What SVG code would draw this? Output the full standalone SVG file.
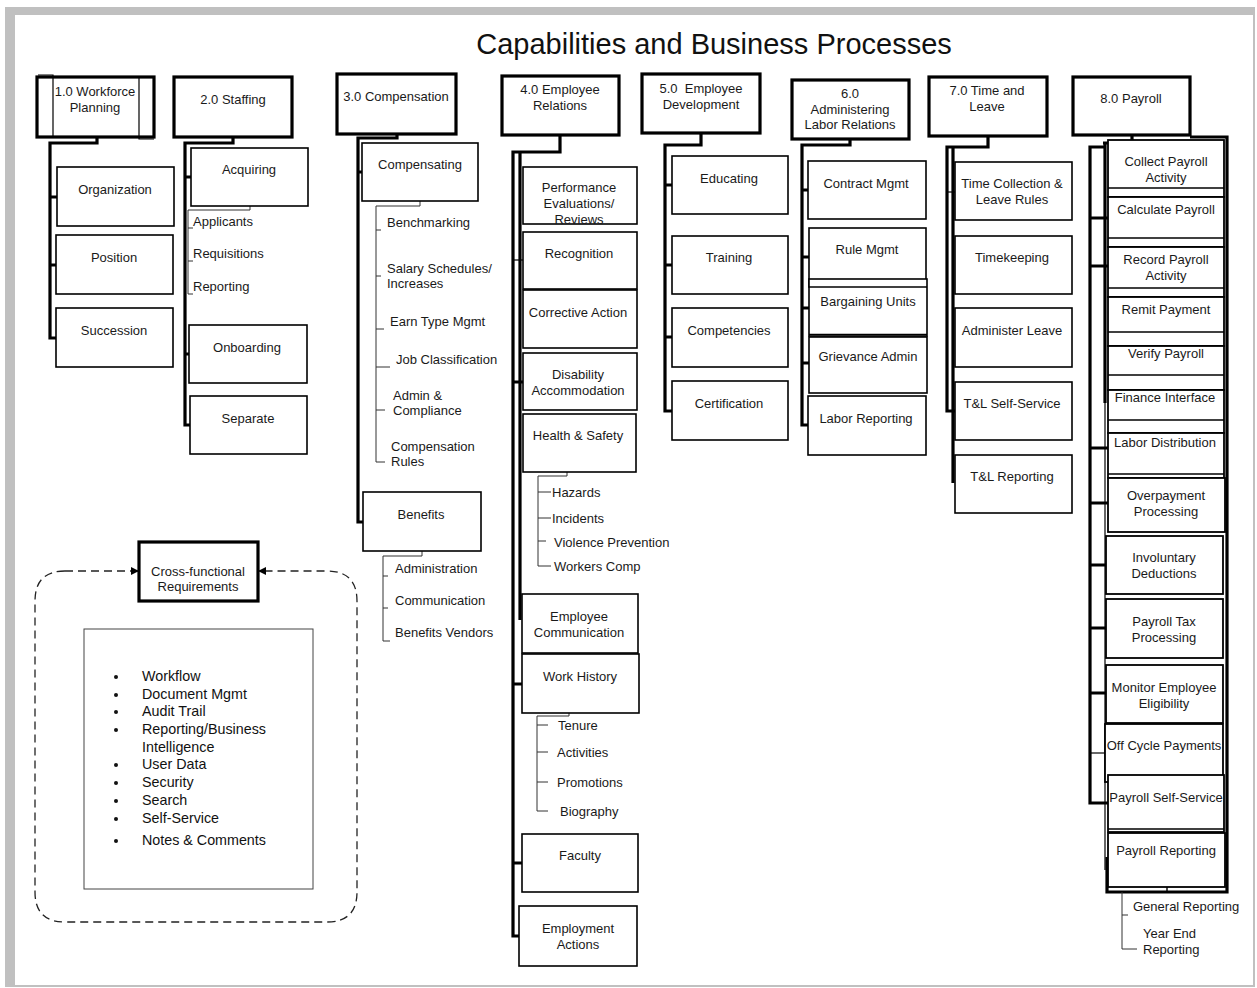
<svg xmlns="http://www.w3.org/2000/svg" width="1257" height="988" viewBox="0 0 1257 988">
<defs>
<style>
.hdr{fill:#fff;stroke:#000;stroke-width:3.2}
.box{fill:#fff;stroke:#000;stroke-width:1.6}
.pb{fill:#fff;stroke:#000;stroke-width:1.8}
.ln{fill:none;stroke:#000;stroke-width:1.4}
.t{font-family:"Liberation Sans",Arial,sans-serif;font-size:13px;fill:#1a1a1a;text-anchor:middle}
.tl{font-family:"Liberation Sans",Arial,sans-serif;font-size:13px;fill:#1a1a1a;text-anchor:start}
.li{font-family:"Liberation Sans",Arial,sans-serif;font-size:14.3px;fill:#111;text-anchor:start}
.bus{fill:none;stroke:#000;stroke-width:3.2;stroke-linejoin:miter}
.tk{fill:none;stroke:#000;stroke-width:3}
.thin{fill:none;stroke:#000;stroke-width:1.2}
.br{fill:none;stroke:#333;stroke-width:1}
.dash{fill:none;stroke:#222;stroke-width:1.3;stroke-dasharray:8 5}
</style>
<marker id="arr" viewBox="0 0 10 10" refX="10" refY="5" markerWidth="8" markerHeight="8" markerUnits="userSpaceOnUse" orient="auto">
<path d="M0,0 L10,5 L0,10 z" fill="#000"/>
</marker>
</defs>
<rect x="5" y="7" width="1250" height="980" fill="#c0c0c0"/>
<rect x="15" y="15" width="1238" height="970" fill="#fff"/>
<text x="714" y="54" style="font-family:'Liberation Sans',Arial,sans-serif;font-size:29px;fill:#111;text-anchor:middle">Capabilities and Business Processes</text>

<g id="connectors">
<!-- col1 -->
<path class="bus" d="M97,137 V143 H50 V338 H56"/>
<path class="tk" d="M50,197 H57 M50,265 H56"/>
<!-- col2 -->
<path class="bus" d="M233,137 V143 H185 V425 H190"/>
<path class="tk" d="M185,177 H191 M185,354 H189"/>
<path class="br" d="M250,206 V210 H188 V294 H193 M188,228 H193 M188,261 H193"/>
<!-- col3 -->
<path class="bus" d="M397,134 V138 H358 V522 H363"/>
<path class="tk" d="M358,172 H362"/>
<path class="br" d="M420,201 V206 H376 V462 H385 M376,230 H381 M376,276 H381 M376,329 H384 M376,367 H390 M376,410 H385"/>
<path class="br" d="M422,551 V556 H383 V641 H390 M383,576 H388 M383,608 H388"/>
<!-- col4 -->
<path class="bus" d="M560,135 V152 H513 V936 H519"/>
<path class="bus" d="M520,152 V620"/>
<path class="tk" d="M513,382 H523 M513,684 H522 M513,863 H522"/>
<path class="thin" d="M513,260 H523"/>
<path class="br" d="M567,472 V476 H538 V566 H551 M538,492 H551 M538,518 H551 M538,541 H546"/>
<path class="br" d="M569,713 V716 H537 V811 H548 M537,725 H548 M537,752 H548 M537,782 H548"/>
<!-- col5 -->
<path class="bus" d="M701,133 V145 H665 V411 H672"/>
<path class="tk" d="M665,185 H672 M665,265 H672 M665,337 H672"/>
<!-- col6 -->
<path class="bus" d="M850,139 V145 H802 V425 H808"/>
<path class="tk" d="M802,190 H808 M802,257 H809 M802,308 H809 M802,363 H809"/>
<!-- col7 -->
<path class="bus" d="M988,136 V147 H947 V411 H955"/>
<path class="bus" d="M953,147 V483"/>
<path class="thin" d="M947,192 H955"/>
<!-- col8 -->
<path class="bus" d="M1132,135 V143 H1103"/>
<path class="bus" d="M1105,143 V403"/>
<path class="thin" d="M1105,403 V870"/>
<path class="bus" d="M1105,147 H1090 V803 H1108"/>
<path class="tk" d="M1090,218 H1108 M1090,266 H1108 M1090,448 H1108 M1090,503 H1108 M1090,565 H1106 M1090,628 H1106 M1090,693 H1106"/>
<path class="thin" d="M1090,753 H1105"/>
<path class="bus" d="M1190,137 H1227 V892 H1107 V857"/>
<path class="br" d="M1122,892 V949 H1137 M1122,915 H1128"/>
<!-- cross functional -->
<path class="dash" d="M65,571 H139" marker-end="url(#arr)"/>
<path class="dash" d="M65,571 Q35,571 35,601 V892 Q35,922 65,922 H327 Q357,922 357,892 V601 Q357,571 327,571 H258" marker-end="url(#arr)"/>
</g>

<!-- Column 1 -->
<g id="n1-0">
<rect class="hdr" x="37" y="77" width="117" height="60"/>
<path class="thin" d="M38,75 H53 V137 M139,78 V139 H154"/>
<text class="t" x="95" y="95.5">1.0 Workforce</text>
<text class="t" x="95" y="111.5">Planning</text>
</g>
<g id="n1-1"><rect class="box" x="57" y="167" width="117" height="59"/><text class="t" x="115" y="193.5">Organization</text></g>
<g id="n1-2"><rect class="box" x="56" y="235" width="117" height="59"/><text class="t" x="114" y="261.5">Position</text></g>
<g id="n1-3"><rect class="box" x="56" y="308" width="117" height="59"/><text class="t" x="114" y="334.5">Succession</text></g>

<!-- Column 2 -->
<g id="n2-0"><rect class="hdr" x="174" y="77" width="118" height="60"/><text class="t" x="233" y="103.5">2.0 Staffing</text></g>
<g id="n2-1"><rect class="box" x="191" y="148" width="117" height="58"/><text class="t" x="249" y="173.5">Acquiring</text></g>
<g id="n2-1-items">
<text class="tl" x="193" y="225.5">Applicants</text>
<text class="tl" x="193" y="257.5">Requisitions</text>
<text class="tl" x="193" y="290.5">Reporting</text>
</g>
<g id="n2-2"><rect class="box" x="189" y="325" width="118" height="58"/><text class="t" x="247" y="351.5">Onboarding</text></g>
<g id="n2-3"><rect class="box" x="190" y="396" width="117" height="58"/><text class="t" x="248" y="422.5">Separate</text></g>

<!-- Column 3 -->
<g id="n3-0"><rect class="hdr" x="337" y="74" width="119" height="60"/><text class="t" x="396" y="100.5">3.0 Compensation</text></g>
<g id="n3-1"><rect class="box" x="362" y="143" width="116" height="58"/><text class="t" x="420" y="168.5">Compensating</text></g>
<g id="n3-1-items">
<text class="tl" x="387" y="226.5">Benchmarking</text>
<text class="tl" x="387" y="272.5">Salary Schedules/</text>
<text class="tl" x="387" y="287.5">Increases</text>
<text class="tl" x="390" y="325.5">Earn Type Mgmt</text>
<text class="tl" x="396" y="363.5">Job Classification</text>
<text class="tl" x="393" y="399.5">Admin &amp;</text>
<text class="tl" x="393" y="414.5">Compliance</text>
<text class="tl" x="391" y="450.5">Compensation</text>
<text class="tl" x="391" y="465.5">Rules</text>
</g>
<g id="n3-2"><rect class="box" x="363" y="492" width="118" height="59"/><text class="t" x="421" y="518.5">Benefits</text></g>
<g id="n3-2-items">
<text class="tl" x="395" y="572.5">Administration</text>
<text class="tl" x="395" y="604.5">Communication</text>
<text class="tl" x="395" y="636.5">Benefits Vendors</text>
</g>

<!-- Column 4 -->
<g id="n4-0"><rect class="hdr" x="502" y="76" width="117" height="59"/><text class="t" x="560" y="93.5">4.0 Employee</text><text class="t" x="560" y="109.5">Relations</text></g>
<g id="n4-1"><rect class="box" x="523" y="167" width="114" height="57"/><text class="t" x="579" y="191.5">Performance</text><text class="t" x="579" y="207.5">Evaluations/</text><text class="t" x="579" y="223.5">Reviews</text></g>
<g id="n4-2"><rect class="box" x="523" y="232" width="114" height="57"/><text class="t" x="579" y="257.5">Recognition</text></g>
<g id="n4-3"><rect class="box" x="523" y="290" width="114" height="58"/><text class="t" x="578" y="316.5">Corrective Action</text></g>
<g id="n4-4"><rect class="box" x="523" y="353" width="114" height="57"/><text class="t" x="578" y="378.5">Disability</text><text class="t" x="578" y="394.5">Accommodation</text></g>
<g id="n4-5"><rect class="box" x="523" y="414" width="113" height="58"/><text class="t" x="578" y="439.5">Health &amp; Safety</text></g>
<g id="n4-5-items">
<text class="tl" x="552" y="496.5">Hazards</text>
<text class="tl" x="552" y="522.5">Incidents</text>
<text class="tl" x="554" y="546.5">Violence Prevention</text>
<text class="tl" x="554" y="571">Workers Comp</text>
</g>
<g id="n4-6"><rect class="box" x="522" y="594" width="116" height="59"/><text class="t" x="579" y="620.5">Employee</text><text class="t" x="579" y="636.5">Communication</text></g>
<g id="n4-7"><rect class="box" x="522" y="654" width="117" height="59"/><text class="t" x="580" y="680.5">Work History</text></g>
<g id="n4-7-items">
<text class="tl" x="558" y="729.5">Tenure</text>
<text class="tl" x="557" y="756.5">Activities</text>
<text class="tl" x="557" y="786.5">Promotions</text>
<text class="tl" x="560" y="815.5">Biography</text>
</g>
<g id="n4-8"><rect class="box" x="522" y="834" width="116" height="58"/><text class="t" x="580" y="859.5">Faculty</text></g>
<g id="n4-9"><rect class="box" x="519" y="906" width="118" height="60"/><text class="t" x="578" y="932.5">Employment</text><text class="t" x="578" y="948.5">Actions</text></g>

<!-- Column 5 -->
<g id="n5-0"><rect class="hdr" x="642" y="74" width="118" height="59"/><text class="t" x="701" y="92.5" xml:space="preserve">5.0  Employee</text><text class="t" x="701" y="108.5">Development</text></g>
<g id="n5-1"><rect class="box" x="672" y="156" width="116" height="58"/><text class="t" x="729" y="182.5">Educating</text></g>
<g id="n5-2"><rect class="box" x="672" y="236" width="116" height="58"/><text class="t" x="729" y="261.5">Training</text></g>
<g id="n5-3"><rect class="box" x="672" y="308" width="116" height="59"/><text class="t" x="729" y="334.5">Competencies</text></g>
<g id="n5-4"><rect class="box" x="672" y="381" width="116" height="59"/><text class="t" x="729" y="407.5">Certification</text></g>

<!-- Column 6 -->
<g id="n6-0"><rect class="hdr" x="792" y="80" width="117" height="59"/><text class="t" x="850" y="97.5">6.0</text><text class="t" x="850" y="113.5">Administering</text><text class="t" x="850" y="128.5">Labor Relations</text></g>
<g id="n6-1"><rect class="box" x="808" y="161" width="118" height="58"/><text class="t" x="866" y="187.5">Contract Mgmt</text></g>
<g id="n6-2"><rect class="box" x="809" y="228" width="117" height="59"/><text class="t" x="867" y="253.5">Rule Mgmt</text></g>
<g id="n6-3"><rect class="box" x="809" y="279" width="118" height="57"/><line class="ln" x1="809" y1="287" x2="927" y2="287"/><text class="t" x="868" y="305.5">Bargaining Units</text></g>
<g id="n6-4"><rect class="box" x="809" y="337" width="118" height="56"/><line class="ln" x1="809" y1="334.5" x2="927" y2="334.5"/><text class="t" x="868" y="360.5">Grievance Admin</text></g>
<g id="n6-5"><rect class="box" x="808" y="396" width="118" height="59"/><text class="t" x="866" y="422.5">Labor Reporting</text></g>

<!-- Column 7 -->
<g id="n7-0"><rect class="hdr" x="929" y="77" width="118" height="59"/><text class="t" x="987" y="94.5">7.0 Time and</text><text class="t" x="987" y="110.5">Leave</text></g>
<g id="n7-1"><rect class="box" x="955" y="162" width="117" height="58"/><text class="t" x="1012" y="187.5">Time Collection &amp;</text><text class="t" x="1012" y="203.5">Leave Rules</text></g>
<g id="n7-2"><rect class="box" x="955" y="236" width="117" height="58"/><text class="t" x="1012" y="261.5">Timekeeping</text></g>
<g id="n7-3"><rect class="box" x="955" y="308" width="117" height="59"/><text class="t" x="1012" y="334.5">Administer Leave</text></g>
<g id="n7-4"><rect class="box" x="955" y="382" width="117" height="58"/><text class="t" x="1012" y="407.5">T&amp;L Self-Service</text></g>
<g id="n7-5"><rect class="box" x="955" y="455" width="117" height="58"/><text class="t" x="1012" y="480.5">T&amp;L Reporting</text></g>

<!-- Column 8 -->
<g id="n8-0"><rect class="hdr" x="1073" y="77" width="117" height="58"/><text class="t" x="1131" y="102.5">8.0 Payroll</text></g>
<g id="n8-1"><rect class="pb" x="1108" y="140" width="116" height="57"/><line class="ln" x1="1108" y1="188" x2="1224" y2="188"/><text class="t" x="1166" y="165.5">Collect Payroll</text><text class="t" x="1166" y="181.5">Activity</text></g>
<g id="n8-2"><rect class="pb" x="1108" y="197" width="116" height="50"/><line class="ln" x1="1108" y1="238" x2="1224" y2="238"/><text class="t" x="1166" y="213.5">Calculate Payroll</text></g>
<g id="n8-3"><rect class="pb" x="1108" y="247" width="116" height="50"/><line class="ln" x1="1108" y1="288" x2="1224" y2="288"/><text class="t" x="1166" y="263.5">Record Payroll</text><text class="t" x="1166" y="279.5">Activity</text></g>
<g id="n8-4"><rect class="pb" x="1108" y="297" width="116" height="49"/><line class="ln" x1="1108" y1="332" x2="1224" y2="332"/><text class="t" x="1166" y="313.5">Remit Payment</text></g>
<g id="n8-5"><rect class="pb" x="1108" y="346" width="116" height="44"/><line class="ln" x1="1108" y1="375" x2="1224" y2="375"/><text class="t" x="1166" y="357.5">Verify Payroll</text></g>
<g id="n8-6"><rect class="pb" x="1108" y="390" width="116" height="43"/><line class="ln" x1="1108" y1="420" x2="1224" y2="420"/><text class="t" x="1165" y="401.5">Finance Interface</text></g>
<g id="n8-7"><rect class="pb" x="1108" y="433" width="116" height="45"/><line class="ln" x1="1108" y1="474" x2="1224" y2="474"/><text class="t" x="1165" y="446.5">Labor Distribution</text></g>
<g id="n8-8"><rect class="pb" x="1108" y="478" width="117" height="54"/><text class="t" x="1166" y="499.5">Overpayment</text><text class="t" x="1166" y="515.5">Processing</text></g>
<g id="n8-9"><rect class="pb" x="1106" y="536" width="117" height="58"/><text class="t" x="1164" y="561.5">Involuntary</text><text class="t" x="1164" y="577.5">Deductions</text></g>
<g id="n8-10"><rect class="pb" x="1106" y="599" width="117" height="59"/><text class="t" x="1164" y="625.5">Payroll Tax</text><text class="t" x="1164" y="641.5">Processing</text></g>
<g id="n8-11"><rect class="pb" x="1106" y="665" width="117" height="58"/><text class="t" x="1164" y="691.5">Monitor Employee</text><text class="t" x="1164" y="707.5">Eligibility</text></g>
<g id="n8-12"><rect class="pb" x="1105" y="724" width="118" height="58"/><text class="t" x="1164" y="749.5">Off Cycle Payments</text></g>
<g id="n8-13"><rect class="pb" x="1108" y="775" width="116" height="57"/><line class="ln" x1="1108" y1="829" x2="1224" y2="829"/><text class="t" x="1166" y="801.5">Payroll Self-Service</text></g>
<g id="n8-14"><rect class="pb" x="1108" y="833" width="117" height="54"/><line class="ln" x1="1167" y1="887" x2="1167" y2="892"/><text class="t" x="1166" y="854.5">Payroll Reporting</text></g>
<g id="n8-14-items">
<text class="tl" x="1133" y="910.5">General Reporting</text>
<text class="tl" x="1143" y="937.5">Year End</text>
<text class="tl" x="1143" y="953.5">Reporting</text>
</g>

<!-- Cross-functional -->
<g id="cross"><rect class="hdr" x="139" y="542" width="119" height="59"/><text class="t" x="198" y="575.5">Cross-functional</text><text class="t" x="198" y="590.5">Requirements</text></g>
<g id="cross-list">
<rect x="84" y="629" width="229" height="260" fill="#fff" stroke="#444" stroke-width="1"/>
<g fill="#111">
<circle cx="116" cy="677" r="2"/><circle cx="116" cy="695" r="2"/><circle cx="116" cy="712" r="2"/><circle cx="116" cy="730" r="2"/><circle cx="116" cy="765" r="2"/><circle cx="116" cy="783" r="2"/><circle cx="116" cy="801" r="2"/><circle cx="116" cy="819" r="2"/><circle cx="116" cy="841" r="2"/>
</g>
<text class="li" x="142" y="681">Workflow</text>
<text class="li" x="142" y="699">Document Mgmt</text>
<text class="li" x="142" y="716">Audit Trail</text>
<text class="li" x="142" y="734">Reporting/Business</text>
<text class="li" x="142" y="752">Intelligence</text>
<text class="li" x="142" y="769">User Data</text>
<text class="li" x="142" y="787">Security</text>
<text class="li" x="142" y="805">Search</text>
<text class="li" x="142" y="823">Self-Service</text>
<text class="li" x="142" y="845">Notes &amp; Comments</text>
</g>
</svg>
